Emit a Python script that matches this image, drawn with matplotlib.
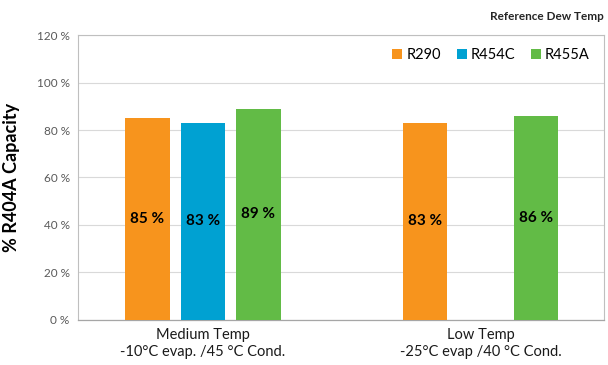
import numpy as np
import matplotlib.pyplot as plt

categories = ['Medium Temp\n-10°C evap. /45 °C Cond.', 'Low Temp\n-25°C evap /40 °C Cond.']
r290 = [85, 83]
r454c = [83, np.nan]
r455a = [89, 86]
yticks = [0, 20, 40, 60, 80, 100, 120]

plt.rcParams['font.family'] = ['Lato', 'DejaVu Sans']

fig = plt.figure(figsize=(6.08, 3.65), dpi=100)
ax = fig.add_axes([0.1283, 0.1233, 0.8651, 0.7808])

x = np.arange(len(categories))
w = 0.16
series = [('R290', r290, '#F7941D', -0.2),
          ('R454C', r454c, '#00A1D2', 0.0),
          ('R455A', r455a, '#62BB46', 0.2)]
for name, vals, col, off in series:
    bars = ax.bar(x + off, vals, w, color=col, label=name, zorder=3)
    for xi, v in zip(x + off, vals):
        if not np.isnan(v):
            ax.text(xi, v / 2, f'{v:.0f} %', ha='center', va='center',
                    fontsize=11, fontweight='bold', color='black', zorder=4)

ax.set_xlim(-0.45, 1.445)
ax.set_ylim(0, 120)
ax.set_yticks(yticks)
ax.set_yticklabels([f'{t} %' for t in yticks], fontsize=8.5, color='#595959')
ax.set_xticks(x)
ax.set_xticklabels(categories, fontsize=10.5, color='#1a1a1a', linespacing=1.25)
ax.tick_params(axis='both', length=0, pad=6)
ax.grid(axis='y', color='#D9D9D9', linewidth=0.8, zorder=0)
for s in ['top', 'left', 'right']:
    ax.spines[s].set_color('#BFBFBF')
    ax.spines[s].set_linewidth(0.8)
ax.spines['bottom'].set_color('#A6A6A6')
ax.spines['bottom'].set_linewidth(0.9)

ax.set_ylabel('% R404A Capacity', fontsize=13, fontweight='bold', labelpad=12)

ax.legend(loc='upper right', ncol=3, frameon=False, fontsize=10.5,
          handlelength=0.7, handleheight=0.7, handletextpad=0.25,
          columnspacing=1.1, bbox_to_anchor=(0.998, 1.0))

fig.text(0.993, 0.955, 'Reference Dew Temp', fontsize=8.5, fontweight='bold',
         color='#262626', ha='right', va='center')

fig.savefig('out.png', dpi=100)
